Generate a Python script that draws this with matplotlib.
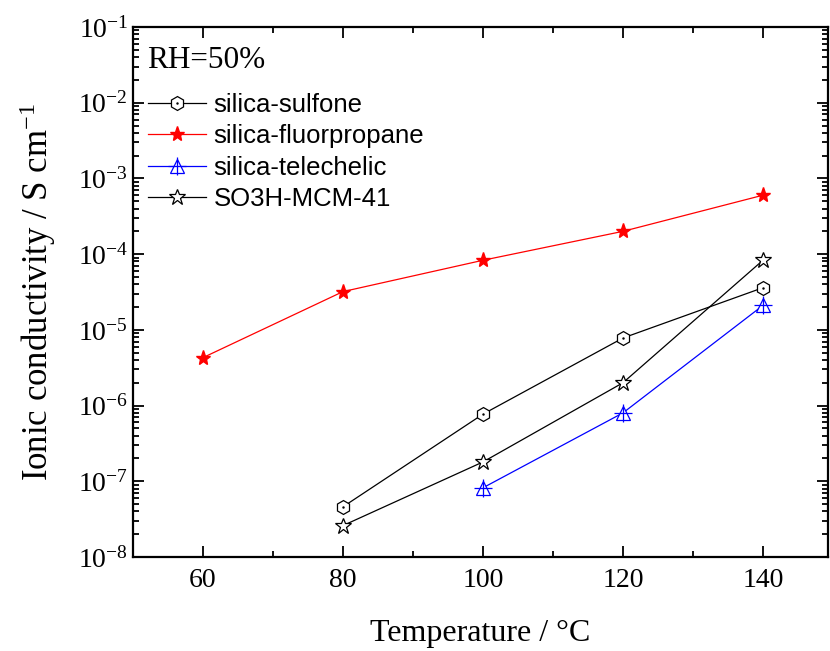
import numpy as np
import matplotlib.pyplot as plt
from matplotlib.legend_handler import HandlerTuple
from matplotlib.ticker import FixedLocator, NullFormatter

plt.rcParams['font.family'] = 'Liberation Serif'
plt.rcParams['mathtext.fontset'] = 'custom'
plt.rcParams['mathtext.rm'] = 'Liberation Serif'
plt.rcParams['mathtext.it'] = 'Liberation Serif:italic'
plt.rcParams['axes.unicode_minus'] = False

# data
t_sulfone = [80, 100, 120, 140]
s_sulfone = [4.6e-8, 7.7e-7, 7.8e-6, 3.6e-5]
t_fluoro = [60, 80, 100, 120, 140]
s_fluoro = [4.3e-6, 3.2e-5, 8.3e-5, 2.0e-4, 6.0e-4]
t_tele = [100, 120, 140]
s_tele = [8.2e-8, 8.0e-7, 2.1e-5]
t_mcm = [80, 100, 120, 140]
s_mcm = [2.6e-8, 1.8e-7, 2.0e-6, 8.3e-5]

fig = plt.figure(figsize=(8.3, 6.51), dpi=100)
ax = fig.add_axes([133/830, 94/651, 695/830, 530/651])

lw = 0.9
h1, = ax.plot(t_sulfone, s_sulfone, color='black', lw=lw, marker='h', ms=10,
              mfc='white', mec='black', mew=0.9)
h1d, = ax.plot(t_sulfone, s_sulfone, ls='none', marker='.', ms=1.5, color='black')
h2, = ax.plot(t_fluoro, s_fluoro, color='red', lw=lw, marker='*', ms=11,
              mfc='red', mec='red')
h3, = ax.plot(t_tele, s_tele, color='blue', lw=lw, marker='^', ms=10,
              mfc='white', mec='blue', mew=0.9)
h3p, = ax.plot(t_tele, s_tele, ls='none', marker='+', ms=13, mew=0.9, color='blue')
h4, = ax.plot(t_mcm, s_mcm, color='black', lw=lw, marker='*', ms=12,
              mfc='white', mec='black', mew=0.9)

ax.set_yscale('log')
ax.set_xlim(50, 149.3)
ax.set_ylim(1e-8, 1e-1)
ax.set_xticks([60, 80, 100, 120, 140])
ax.set_xticks([70, 90, 110, 130], minor=True)
ax.set_yticks([10.0**k for k in range(-8, 0)])
minor_y = [m * 10.0**k for k in range(-8, -1) for m in range(2, 10)]
ax.yaxis.set_minor_locator(FixedLocator(minor_y))
ax.yaxis.set_minor_formatter(NullFormatter())

ax.tick_params(which='both', direction='in', top=True, right=True, labelsize=20, width=1.3)
ax.tick_params(which='major', length=8)
ax.tick_params(which='minor', length=4)
ax.tick_params(axis='x', which='major', pad=8)
for sp in ax.spines.values():
    sp.set_linewidth(1.6)

ax.set_xlabel('Temperature / \u00b0C', fontsize=23, labelpad=19)
ax.set_ylabel('Ionic conductivity / S cm$^{-1}$', fontsize=25, labelpad=14)

ax.text(0.02, 0.965, 'RH=50%', transform=ax.transAxes, fontsize=22.5, va='top', ha='left')

leg = ax.legend([(h1, h1d), h2, (h3, h3p), h4],
                ['silica-sulfone', 'silica-fluorpropane', 'silica-telechelic', 'SO3H-MCM-41'],
                handler_map={tuple: HandlerTuple(ndivide=1)},
                loc='upper left', bbox_to_anchor=(0.003, 0.9), frameon=False,
                prop={'family': 'Liberation Sans', 'size': 18.5},
                handlelength=2.25, handletextpad=0.3, labelspacing=0.29, borderaxespad=0.1)

plt.savefig('out.png', dpi=100)
